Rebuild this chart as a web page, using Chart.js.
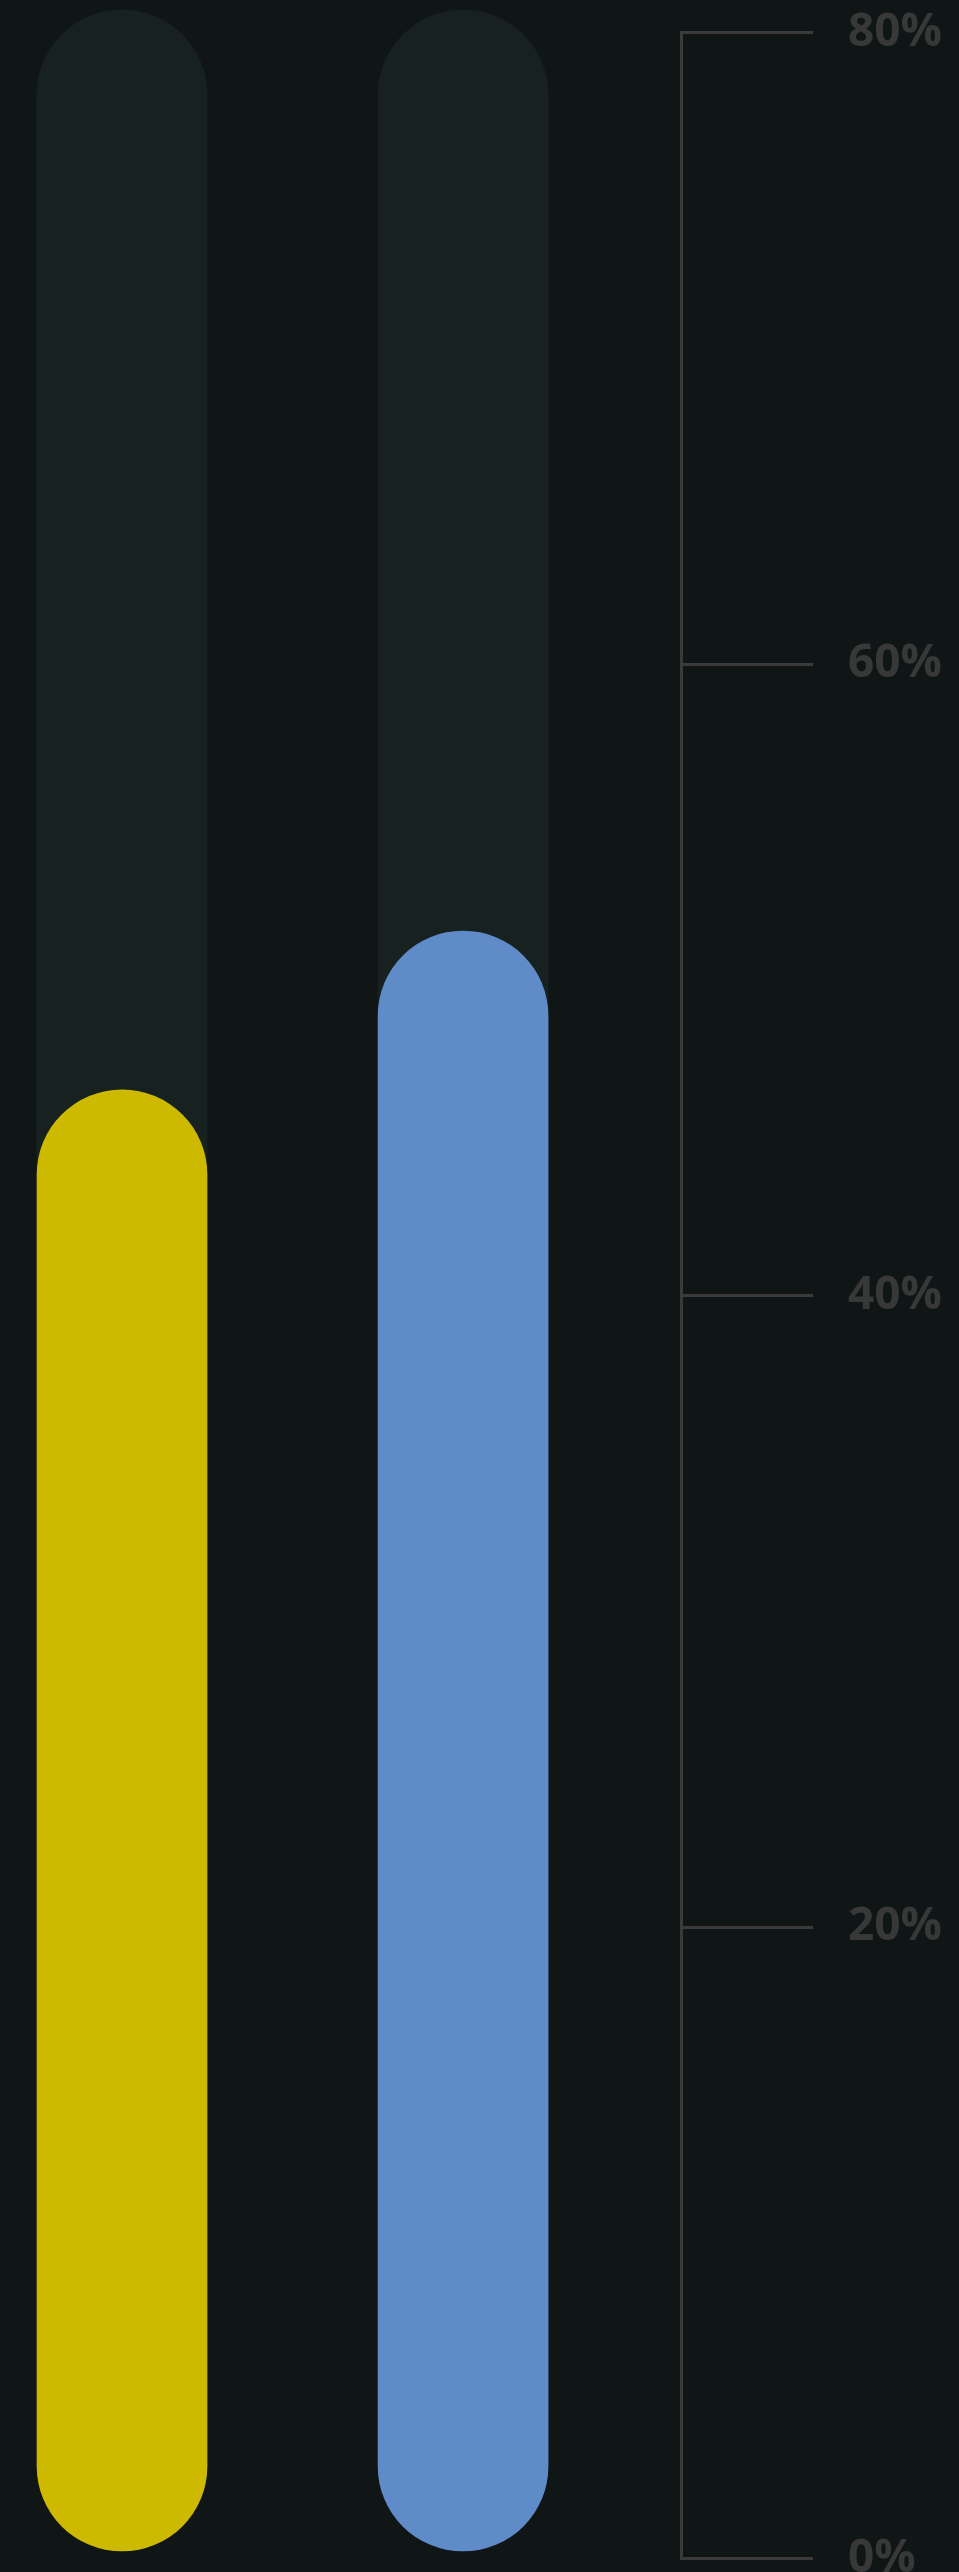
<!DOCTYPE html>
<html>
<head>
<meta charset="utf-8">
<script src="https://cdn.jsdelivr.net/npm/chart.js@4"></script>
<style>
  html, body { margin: 0; padding: 0; background: #101616; overflow: hidden; }
  #wrap { width: 959px; height: 2600px; }
</style>
</head>
<body>
<div id="wrap"><canvas id="barChart"></canvas></div>
<script>
// Chart data
const categories = ['A', 'B'];
const values = [46, 51];
const trackValues = [80, 80];
const tickValues = [0, 20, 40, 60, 80];

const barColors = ['#cdb900', '#5f8bc8'];

const ctx = document.getElementById('barChart').getContext('2d');

const valueData = categories.map((c, i) => ({ x: i, y: values[i] }));
const trackData = categories.map((c, i) => ({ x: i, y: trackValues[i] }));

const chart = new Chart(ctx, {
    type: 'bar',
    data: {
        datasets: [
            {
                label: 'Value',
                data: valueData,
                backgroundColor: barColors,
                barThickness: 170,
                borderRadius: 85,
                borderSkipped: false,
                grouped: false,
                clip: false,
                yAxisID: 'y'
            },
            {
                label: 'Track',
                data: trackData,
                backgroundColor: '#172120',
                barThickness: 170,
                borderRadius: 85,
                borderSkipped: false,
                grouped: false,
                clip: false,
                yAxisID: 'y'
            }
        ]
    },
    options: {
        responsive: true,
        maintainAspectRatio: false,
        animation: false,
        layout: {
            padding: { top: 32.8, bottom: 41.2, left: 0, right: 0 }
        },
        plugins: {
            legend: { display: false },
            tooltip: { enabled: false }
        },
        scales: {
            x: {
                type: 'linear',
                display: false,
                offset: false,
                min: -0.3578,
                max: 1.639
            },
            y: {
                display: false,
                min: -0.2456,
                max: 79.28
            },
            y1: {
                position: 'right',
                min: tickValues[0],
                max: tickValues[tickValues.length - 1],
                afterBuildTicks: (scale) => {
                    scale.ticks = tickValues.map(v => ({ value: v }));
                },
                afterFit: (scale) => {
                    scale.width = 278;
                    // let the labels hang over the top/bottom edge
                    scale.paddingTop = 0;
                    scale.paddingBottom = 0;
                },
                grid: {
                    drawOnChartArea: false,
                    color: '#3a3a3a',
                    lineWidth: 3,
                    tickLength: 132
                },
                border: {
                    display: true,
                    color: '#3a3a3a',
                    width: 3
                },
                ticks: {
                    padding: 35,
                    color: '#383838',
                    font: { family: 'Open Sans', weight: 'bold', size: 46 },
                    callback: (v) => v + '%'
                }
            }
        }
    }
});
</script>
</body>
</html>
